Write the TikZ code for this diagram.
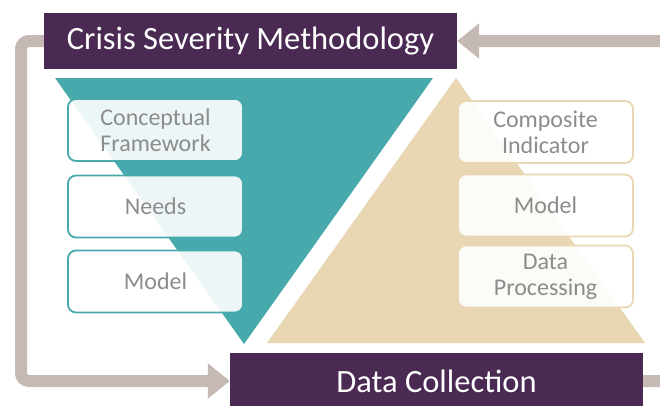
\documentclass[tikz,border=0pt]{standalone}
\usepackage{fontspec}
\setmainfont{Carlito}
\usetikzlibrary{arrows.meta,calc}
\definecolor{plum}{HTML}{4A2A52}
\definecolor{tealc}{HTML}{48A9AC}
\definecolor{beige}{HTML}{E8D7B2}
\definecolor{loopc}{HTML}{C5B9B3}
\definecolor{txtg}{HTML}{8C8C8C}
\tikzset{
  headbox/.style={fill=plum, text=white, minimum width=413pt, minimum height=56pt, inner sep=0pt, font=\fontsize{32.5}{36}\selectfont},
  stepbox/.style={rounded corners=8pt, line width=1.8pt, fill=white, fill opacity=0.9, text opacity=1, text=txtg, minimum width=175pt, minimum height=62pt, inner sep=0pt, align=center, font=\fontsize{24}{26}\selectfont},
  lbox/.style={stepbox, draw=tealc},
  rbox/.style={stepbox, draw=beige},
  loopline/.style={draw=loopc, line width=12pt, rounded corners=8pt, -{Triangle[width=34pt,length=22pt]}},
}
\begin{document}
\begin{tikzpicture}[x=1pt,y=-1pt]
\useasboundingbox (0,0) rectangle (660,405);
\fill[white] (0,0) rectangle (660,405);
% triangles
\fill[tealc] (55,78) -- (433,78) -- (244,344) -- cycle;
\fill[beige] (456,78) -- (645,343) -- (267,343) -- cycle;
% head boxes
\node[headbox] (title) at (250.5,41) {Crisis Severity Methodology};
\node[headbox] (datac) at (436.5,381) {Data Collection};
% loops
\coordinate (lc) at (21,0);
\coordinate (rc) at (668,0);
\draw[loopline] (title.west) -| (lc |- datac.west) -- (datac.west);
\draw[loopline] (datac.east) -| (rc |- title.east) -- (title.east);
% left boxes
\node[lbox] (cf) at (155.5,130) {Conceptual\\Framework};
\node[lbox] (needs) at (155.5,206.5) {Needs};
\node[lbox] (lmodel) at (155.5,281.5) {Model};
% right boxes
\node[rbox] (ci) at (545.5,132) {Composite\\Indicator};
\node[rbox] (rmodel) at (545.5,205.5) {Model};
\node[rbox] (dp) at (545.5,276.5) {Data\\Processing};
\end{tikzpicture}
\end{document}
